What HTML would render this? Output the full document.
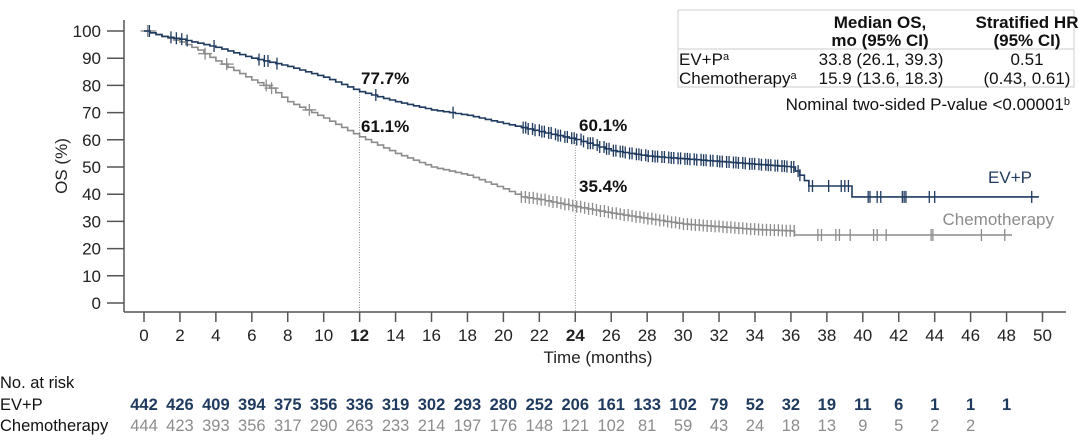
<!DOCTYPE html>
<html><head><meta charset="utf-8"><style>
body{margin:0;background:#fff;font-family:"Liberation Sans",Arial,sans-serif;}
svg text{font-family:"Liberation Sans",Arial,sans-serif;}
</style></head><body>
<svg id="s" width="1080" height="439" xmlns="http://www.w3.org/2000/svg">
<rect x="0" y="0" width="1080" height="439" fill="#fff"/>
<rect x="678" y="10" width="396" height="77" fill="none" stroke="#ccc" stroke-width="1"/>
<line x1="678" y1="49" x2="1074" y2="49" stroke="#ccc"/>
<g font-size="17" fill="#111" text-anchor="middle" font-weight="bold">
<text x="880" y="28">Median OS,</text><text x="880" y="46">mo (95% CI)</text>
<text x="1027" y="28">Stratified HR</text><text x="1027" y="46">(95% CI)</text>
</g>
<g font-size="17" fill="#111">
<text x="679" y="65">EV+P<tspan font-size="11" dy="-5">a</tspan></text>
<text x="679" y="84">Chemotherapy<tspan font-size="11" dy="-5">a</tspan></text>
<text x="881" y="65" text-anchor="middle">33.8 (26.1, 39.3)</text>
<text x="881" y="84" text-anchor="middle">15.9 (13.6, 18.3)</text>
<text x="1027" y="65" text-anchor="middle">0.51</text>
<text x="1027" y="84" text-anchor="middle">(0.43, 0.61)</text>
<text x="1070" y="110" text-anchor="end">Nominal two-sided P-value &lt;0.00001<tspan font-size="11" dy="-5">b</tspan></text>
</g>
<line x1="124" y1="20" x2="124" y2="312" stroke="#555" stroke-width="1.5"/>
<line x1="124" y1="312" x2="1066" y2="312" stroke="#555" stroke-width="1.5"/>
<g id="yt"></g><g id="xt"></g>
<text transform="translate(67,166) rotate(-90)" font-size="17" text-anchor="middle" fill="#222">OS (%)</text>
<text x="598" y="363" font-size="17" text-anchor="middle" fill="#222">Time (months)</text>
<line x1="359.6" y1="92" x2="359.6" y2="312" stroke="#777" stroke-width="0.8" stroke-dasharray="1,1.5"/>
<line x1="575.3" y1="140" x2="575.3" y2="312" stroke="#777" stroke-width="0.8" stroke-dasharray="1,1.5"/>
<g font-size="17" font-weight="bold" fill="#111">
<text x="361" y="84">77.7%</text><text x="361" y="132">61.1%</text>
<text x="579" y="131">60.1%</text><text x="579" y="192">35.4%</text>
</g>
<text x="1032" y="183" font-size="17" text-anchor="end" fill="#1f3a5f">EV+P</text>
<text x="1054" y="225" font-size="17" text-anchor="end" fill="#8c8c8c">Chemotherapy</text>
<g id="curves"></g>
<g font-size="16.5" fill="#111">
<text x="0" y="388">No. at risk</text>
<text x="0" y="410">EV+P</text>
<text x="0" y="431">Chemotherapy</text>
</g>
<g id="risk"></g>
</svg>
<script>
const NS="http://www.w3.org/2000/svg";
function el(p,t,a,txt){const e=document.createElementNS(NS,t);for(const k in a)e.setAttribute(k,a[k]);if(txt!==undefined)e.textContent=txt;p.appendChild(e);return e;}
const X=t=>144+t*17.97, Y=v=>303-v*2.72;
const yt=document.getElementById('yt');
for(let v=0;v<=100;v+=10){el(yt,'line',{x1:107,x2:124,y1:Y(v),y2:Y(v),stroke:'#555','stroke-width':1.5});
el(yt,'text',{x:101,y:Y(v)+6,'font-size':17,'text-anchor':'end',fill:'#222'},v);}
const xt=document.getElementById('xt');
for(let t=0;t<=50;t+=2){el(xt,'line',{x1:X(t),x2:X(t),y1:312,y2:322,stroke:'#555','stroke-width':1.5});
el(xt,'text',{x:X(t),y:341,'font-size':17,'text-anchor':'middle',fill:'#222','font-weight':(t==12||t==24)?'bold':'normal'},t);}
function curve(pts,col,cens,cross){
 const g=document.getElementById('curves');
 let d='M'+X(pts[0][0])+' '+Y(pts[0][1]);
 const fine=[];
 for(let i=0;i<pts.length-1;i++){const[a,b]=[pts[i],pts[i+1]];
  const n=Math.max(1,Math.round((b[0]-a[0])*3));
  for(let j=0;j<n;j++){fine.push([a[0]+(b[0]-a[0])*j/n,a[1]+(b[1]-a[1])*j/n]);}}
 fine.push(pts[pts.length-1]);
 for(let i=1;i<fine.length;i++){d+=' H'+X(fine[i][0]).toFixed(1)+' V'+Y(fine[i][1]).toFixed(1);}
 el(g,'path',{d:d,fill:'none',stroke:col,'stroke-width':1.6});
 function valAt(t){for(let i=fine.length-1;i>=0;i--)if(fine[i][0]<=t)return fine[i][1];return 100;}
 cens.forEach(t=>{const y=Y(valAt(t));el(g,'line',{x1:X(t),x2:X(t),y1:y-6,y2:y+6,stroke:col,'stroke-width':1.3});
  if(cross&&t<10)el(g,'line',{x1:X(t)-7,x2:X(t)+7,y1:y,y2:y,stroke:col,'stroke-width':1.3});});
}
const ev=[[0,100],[1,98],[2,97],[4,94],[6,90],[8,87],[10,83],[12,77.7],[14,74],[16,71],[18,69],[20,66],[22,63],[24,60.1],[26,56],[28,54],[30,53],[32,52],[34,51],[36,50],[36.5,47],[37,43],[39.4,43],[39.4,39],[49.8,39]];
const ch=[[0,100],[1,98],[2,96],[3,93],[4,89],[6,82],[7,79],[8,74],[10,68],[12,61.1],[14,55],[16,50],[18,47],[20,42],[21,39],[22,38],[24,35.4],[26,33],[28,31],[30,29],[32,28],[34,27],[36,26.5],[36.2,25],[48.3,25]];
const evc=[0.3,1.5,1.8,2.1,2.4,3.9,6.4,6.7,6.9,7.4,12.9,17.2];
for(let t=21;t<36.3;t+=0.18)evc.push(t+((t*7)%0.1));
evc.push(36.5,37,37.2,38.1,38.8,39,39.2,40.3,40.4,40.8,41,42.2,42.3,42.4,43.7,44,49.4);
const chc=[0.2,0.3,3.4,4.6,6.8,7.1,9.2];
for(let t=21;t<36.2;t+=0.22)chc.push(t);
chc.push(37.5,37.7,38.5,38.7,39.3,40.6,40.8,41.3,43.8,43.9,46.6,47.9);
curve(ch,'#8c8c8c',chc,true);
curve(ev,'#1f3a5f',evc,false);
const r1=[442,426,409,394,375,356,336,319,302,293,280,252,206,161,133,102,79,52,32,19,11,6,1,1,1];
const r2=[444,423,393,356,317,290,263,233,214,197,176,148,121,102,81,59,43,24,18,13,9,5,2,2];
const rg=document.getElementById('risk');
r1.forEach((v,i)=>el(rg,'text',{x:X(i*2),y:410,'font-size':16.5,'font-weight':'bold','text-anchor':'middle',fill:'#1f3a5f'},v));
r2.forEach((v,i)=>el(rg,'text',{x:X(i*2),y:431,'font-size':16.5,'text-anchor':'middle',fill:'#8c8c8c'},v));
</script>
</body></html>
